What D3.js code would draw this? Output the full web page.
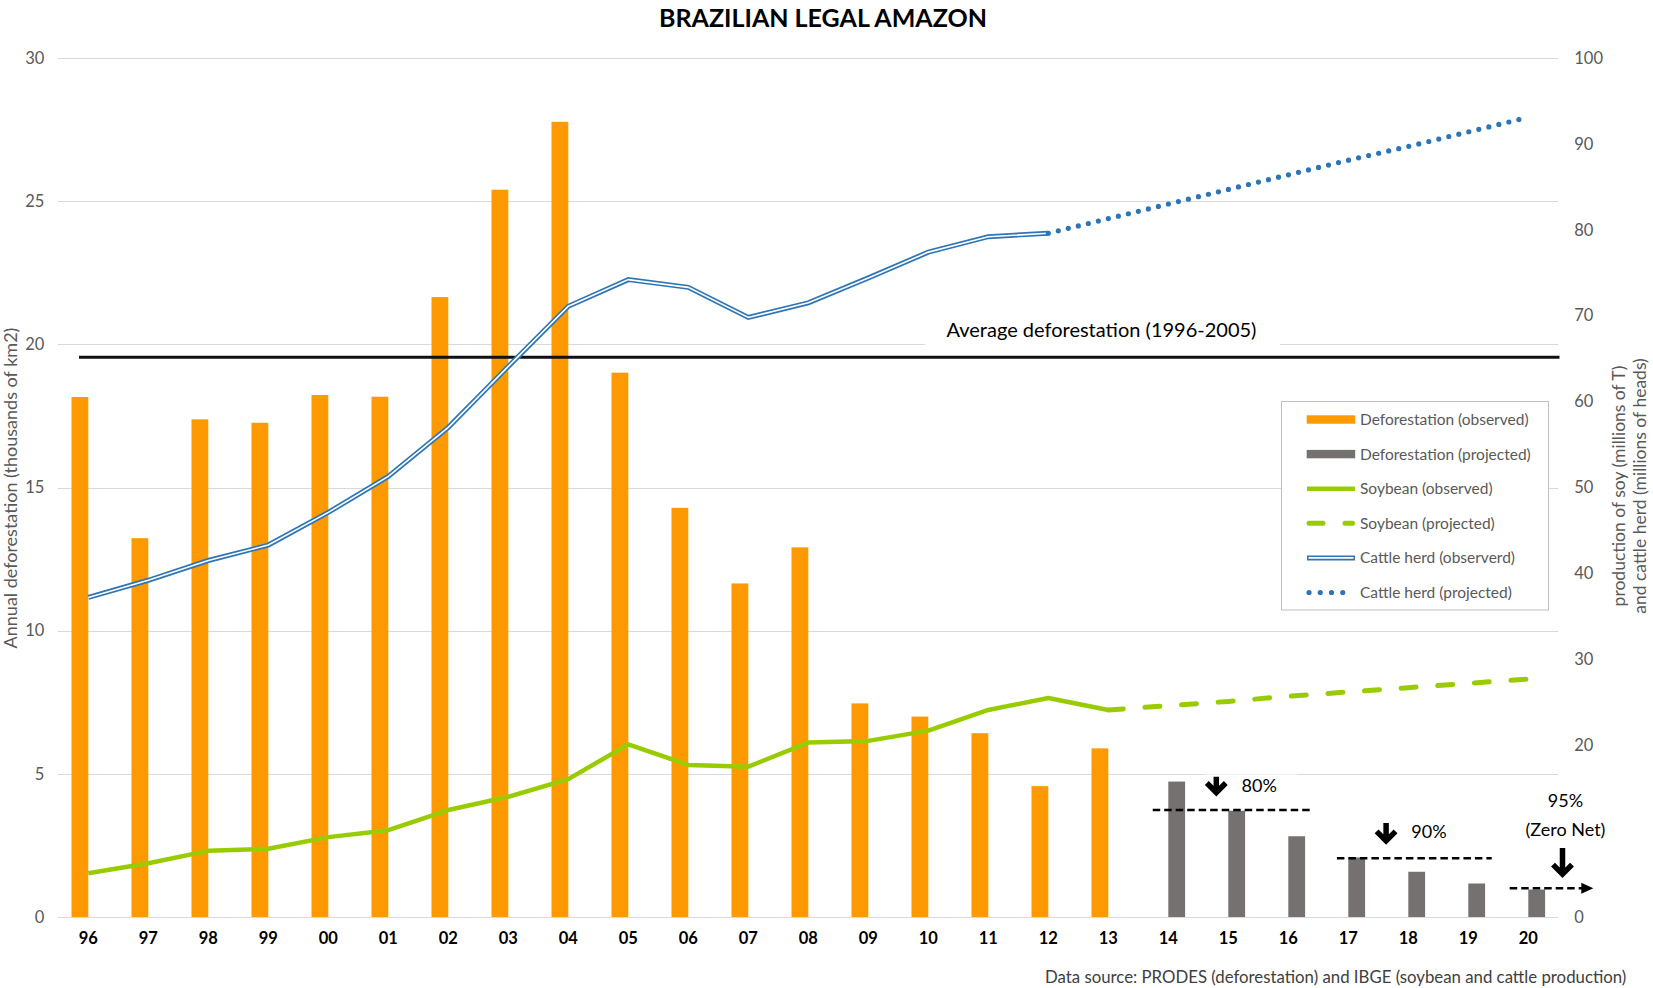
<!DOCTYPE html>
<html lang="en">
<head>
<meta charset="utf-8" />
<title>Brazilian Legal Amazon</title>
<script src="https://cdn.jsdelivr.net/npm/d3@7"></script>
<style>
    body, html {
        margin: 0;
        padding: 0;
        background: #fff;
        overflow: hidden;
    }

    svg {
        display: block;
        font-family: Lato, "Open Sans", sans-serif;
    }

    .axis path, .axis line {
        display: none;
    }

    .axis text {
        fill: #595959;
        font-size: 16.5px;
        font-family: Lato, sans-serif;
    }

    .xaxis text {
        fill: #000;
        font-weight: bold;
        font-size: 16.5px;
    }

    .grid line {
        stroke: #d9d9d9;
        stroke-width: 1;
        shape-rendering: crispEdges;
    }

    .legend text {
        fill: #595959;
        font-size: 15.5px;
    }

    .note {
        font-size: 18px;
        fill: #000;
    }
</style>
</head>
<body>
<div id="chart"></div>
<script>
    // categories (years 1996 - 2020)
    const years = ["96", "97", "98", "99", "00", "01", "02", "03", "04", "05", "06", "07", "08",
        "09", "10", "11", "12", "13", "14", "15", "16", "17", "18", "19", "20"];

    // deforestation, thousands of km2 (left axis)
    const defObserved = [18.16, 13.23, 17.38, 17.26, 18.23, 18.17, 21.65, 25.40, 27.77, 19.01,
        14.29, 11.65, 12.91, 7.46, 7.00, 6.42, 4.57, 5.89];
    const defProjectedYears = ["14", "15", "16", "17", "18", "19", "20"];
    const defProjected = [4.73, 3.71, 2.82, 2.08, 1.58, 1.17, 0.96];

    // soybean, millions of T (right axis)
    const soyObserved = [5.1, 6.25, 7.7, 7.95, 9.3, 10.1, 12.45, 14.0, 16.05, 20.1,
        17.7, 17.5, 20.3, 20.5, 21.7, 24.1, 25.5, 24.1];
    const soyProjectedYears = ["13", "14", "15", "16", "17", "18", "19", "20"];
    const soyProjected = [24.1, 24.6, 25.1, 25.7, 26.2, 26.7, 27.2, 27.7];

    // cattle herd, millions of heads (right axis)
    const cattleObserved = [37.2, 39.2, 41.5, 43.3, 47.1, 51.3, 57.0, 64.1, 71.1, 74.2,
        73.3, 69.8, 71.5, 74.4, 77.4, 79.2, 79.6];
    const cattleProjectedYears = ["12", "13", "14", "15", "16", "17", "18", "19", "20"];
    const cattleProjected = [79.6, 81.3, 83.0, 84.7, 86.4, 88.1, 89.7, 91.4, 93.1];

    const avgLevel = 19.55;
    const leftTicks = [0, 5, 10, 15, 20, 25, 30];
    // the "10" label sits under the "(Zero Net)" note in the original
    const rightTicks = [0, 20, 30, 40, 50, 60, 70, 80, 90, 100];

    const legendLabels = ["Deforestation (observed)", "Deforestation (projected)", "Soybean (observed)",
        "Soybean (projected)", "Cattle herd (observerd)", "Cattle herd (projected)"];

    const colors = { orange: "#ff9900", grey: "#767171", green: "#99cc00", blue: "#2e75b6" };

    const W = 1653, H = 988;
    const plot = { left: 58.3, right: 1558.3, top: 58, bottom: 917 };

    const svg = d3.select("#chart").append("svg")
        .attr("width", W)
        .attr("height", H);

    const x = d3.scaleBand().domain(years).range([plot.left, plot.right]);
    const bw = x.bandwidth();
    const cx = d => x(d) + bw / 2;
    // fractional category position (0 = first category centre)
    const xAt = i => plot.left + (i + 0.5) * bw;
    const yL = d3.scaleLinear().domain([0, 30]).range([plot.bottom, plot.top]);
    const yR = d3.scaleLinear().domain([0, 100]).range([plot.bottom, plot.top]);

    // gridlines
    svg.append("g").attr("class", "grid")
        .selectAll("line").data(leftTicks).enter().append("line")
        .attr("x1", plot.left).attr("x2", plot.right)
        .attr("y1", d => Math.round(yL(d)) + 0.5).attr("y2", d => Math.round(yL(d)) + 0.5);

    // axes
    svg.append("g").attr("class", "axis")
        .attr("transform", "translate(" + plot.left + ",0)")
        .call(d3.axisLeft(yL).tickValues(leftTicks).tickSize(0).tickPadding(14));
    svg.append("g").attr("class", "axis")
        .attr("transform", "translate(" + plot.right + ",0)")
        .call(d3.axisRight(yR).tickValues(rightTicks).tickSize(0).tickPadding(16));
    svg.append("g").attr("class", "axis xaxis")
        .attr("transform", "translate(0," + plot.bottom + ")")
        .call(d3.axisBottom(x).tickSize(0).tickPadding(15));

    // bars
    const barW = bw * 0.28;
    svg.append("g").selectAll("rect").data(defObserved).enter().append("rect")
        .attr("x", (d, i) => cx(years[i]) - barW)
        .attr("y", d => yL(d))
        .attr("width", barW)
        .attr("height", d => yL(0) - yL(d))
        .attr("fill", colors.orange);
    svg.append("g").selectAll("rect").data(defProjected).enter().append("rect")
        .attr("x", (d, i) => cx(defProjectedYears[i]))
        .attr("y", d => yL(d))
        .attr("width", barW)
        .attr("height", d => yL(0) - yL(d))
        .attr("fill", colors.grey);

    // average line + its label box
    svg.append("rect")
        .attr("x", 925).attr("y", yL(avgLevel) - 40).attr("width", 355).attr("height", 34)
        .attr("fill", "#fff");
    svg.append("line")
        .attr("x1", xAt(-0.155)).attr("x2", xAt(24.52))
        .attr("y1", yL(avgLevel)).attr("y2", yL(avgLevel))
        .attr("stroke", "#111").attr("stroke-width", 3);
    svg.append("text")
        .attr("x", 1101.5).attr("y", yL(avgLevel) - 20)
        .attr("text-anchor", "middle")
        .style("font-size", "20px")
        .text("Average deforestation (1996-2005)");

    // lines
    const lineR = (ys) => d3.line().x((d, i) => cx(ys[i])).y(d => yR(d));

    svg.append("path").datum(soyObserved)
        .attr("d", lineR(years))
        .attr("fill", "none").attr("stroke", colors.green).attr("stroke-width", 4.5)
        .attr("stroke-linejoin", "round");
    svg.append("path").datum(soyProjected)
        .attr("d", lineR(soyProjectedYears))
        .attr("fill", "none").attr("stroke", colors.green).attr("stroke-width", 5)
        .attr("stroke-dasharray", "15 21.7").attr("stroke-linecap", "round");

    svg.append("path").datum(cattleObserved)
        .attr("d", lineR(years))
        .attr("fill", "none").attr("stroke", colors.blue).attr("stroke-width", 5);
    svg.append("path").datum(cattleObserved)
        .attr("d", lineR(years))
        .attr("fill", "none").attr("stroke", "#fff").attr("stroke-width", 1.6);
    svg.append("path").datum(cattleProjected)
        .attr("d", lineR(cattleProjectedYears))
        .attr("fill", "none").attr("stroke", colors.blue).attr("stroke-width", 5.2)
        .attr("stroke-dasharray", "0 10.3").attr("stroke-linecap", "round");

    // reduction targets
    const targets = [
        { label: ["80%"], from: 17.74, to: 20.41, level: 3.74, arrowAt: 18.8, arrowTop: 4.90, arrowTip: 4.26,
          textAt: 19.22, textLevel: 4.36, anchor: "start", box: [18.6, 20.15, 4.98, 4.02] },
        { label: ["90%"], from: 20.81, to: 23.39, level: 2.05, arrowAt: 21.63, arrowTop: 3.28, arrowTip: 2.57,
          textAt: 22.05, textLevel: 2.77, anchor: "start", box: [21.42, 23.0, 3.36, 2.35] },
        { label: ["95%", "(Zero Net)"], from: 23.69, to: 24.9, level: 1.0, arrowAt: 24.57, arrowTop: 2.41, arrowTip: 1.41,
          textAt: 24.62, textLevel: 3.85, anchor: "middle", head: true, box: [23.85, 25.42, 4.35, 2.65] }
    ];
    const notes = svg.append("g");
    targets.forEach(t => {
        notes.append("rect")
            .attr("x", xAt(t.box[0])).attr("y", yL(t.box[2]))
            .attr("width", xAt(t.box[1]) - xAt(t.box[0]))
            .attr("height", yL(t.box[3]) - yL(t.box[2]))
            .attr("fill", "#fff");
    });
    targets.forEach(t => {
        notes.append("line")
            .attr("x1", xAt(t.from)).attr("x2", xAt(t.to))
            .attr("y1", yL(t.level)).attr("y2", yL(t.level))
            .attr("stroke", "#000").attr("stroke-width", 2.5)
            .attr("stroke-dasharray", "7.5 4");
        if (t.head) {
            const tx = xAt(t.to);
            notes.append("path")
                .attr("d", `M${tx - 1},${yL(t.level) - 5.5}L${tx + 11},${yL(t.level)}L${tx - 1},${yL(t.level) + 5.5}Z`)
                .attr("fill", "#000");
        }
        const ax = xAt(t.arrowAt), a0 = yL(t.arrowTop), a1 = yL(t.arrowTip);
        notes.append("path")
            .attr("d", `M${ax},${a0}L${ax},${a1 - 4}M${ax - 9.5},${a1 - 12}L${ax},${a1 - 2.5}L${ax + 9.5},${a1 - 12}`)
            .attr("fill", "none").attr("stroke", "#000").attr("stroke-width", 5.5);
        t.label.forEach((s, k) => {
            notes.append("text").attr("class", "note")
                .attr("x", xAt(t.textAt)).attr("y", yL(t.textLevel) + k * 29)
                .attr("text-anchor", t.anchor)
                .text(s);
        });
    });

    // legend
    const lg = svg.append("g").attr("class", "legend");
    lg.append("rect")
        .attr("x", 1281.5).attr("y", 401.5).attr("width", 267).attr("height", 208.5)
        .attr("fill", "#fff").attr("stroke", "#bfbfbf");
    const rowY = i => 419.5 + i * 34.6;
    legendLabels.forEach((name, i) => {
        const y = rowY(i);
        if (i < 2) {
            lg.append("rect").attr("x", 1306.7).attr("y", y - 4.2).attr("width", 48.5).attr("height", 8.4)
                .attr("fill", i === 0 ? colors.orange : colors.grey);
        } else if (i === 2) {
            lg.append("line").attr("x1", 1307).attr("x2", 1355).attr("y1", y).attr("y2", y)
                .attr("stroke", colors.green).attr("stroke-width", 4.5);
        } else if (i === 3) {
            lg.append("line").attr("x1", 1309).attr("x2", 1352.5).attr("y1", y).attr("y2", y)
                .attr("stroke", colors.green).attr("stroke-width", 5)
                .attr("stroke-dasharray", "14 22").attr("stroke-linecap", "round");
        } else if (i === 4) {
            lg.append("line").attr("x1", 1307).attr("x2", 1355).attr("y1", y).attr("y2", y)
                .attr("stroke", colors.blue).attr("stroke-width", 5);
            lg.append("line").attr("x1", 1308.5).attr("x2", 1353.5).attr("y1", y).attr("y2", y)
                .attr("stroke", "#fff").attr("stroke-width", 1.6);
        } else {
            lg.append("line").attr("x1", 1309).attr("x2", 1354).attr("y1", y).attr("y2", y)
                .attr("stroke", colors.blue).attr("stroke-width", 5.2)
                .attr("stroke-dasharray", "0 11.25").attr("stroke-linecap", "round");
        }
        lg.append("text").attr("x", 1360).attr("y", y + 5.5).text(name);
    });

    // titles
    svg.append("text")
        .attr("x", 823).attr("y", 26.7)
        .attr("text-anchor", "middle")
        .style("font-size", "25px").style("font-weight", "bold")
        .text("BRAZILIAN LEGAL AMAZON");

    svg.append("text")
        .attr("transform", "translate(11,488) rotate(-90)")
        .attr("text-anchor", "middle").attr("dy", "0.35em")
        .style("font-size", "18px").style("fill", "#595959")
        .text("Annual deforestation (thousands of  km2)");

    const rightTitle = ["production of soy (millions of T)", "and cattle herd (millions of heads)"];
    rightTitle.forEach((s, k) => {
        svg.append("text")
            .attr("transform", "translate(" + (1619 + k * 21) + ",486) rotate(-90)")
            .attr("text-anchor", "middle").attr("dy", "0.35em")
            .style("font-size", "17.5px").style("fill", "#595959")
            .text(s);
    });

    svg.append("text")
        .attr("x", 1045).attr("y", 982.5)
        .style("font-size", "16.8px").style("fill", "#404040")
        .text("Data source: PRODES (deforestation) and IBGE (soybean and cattle production)");
</script>
</body>
</html>
